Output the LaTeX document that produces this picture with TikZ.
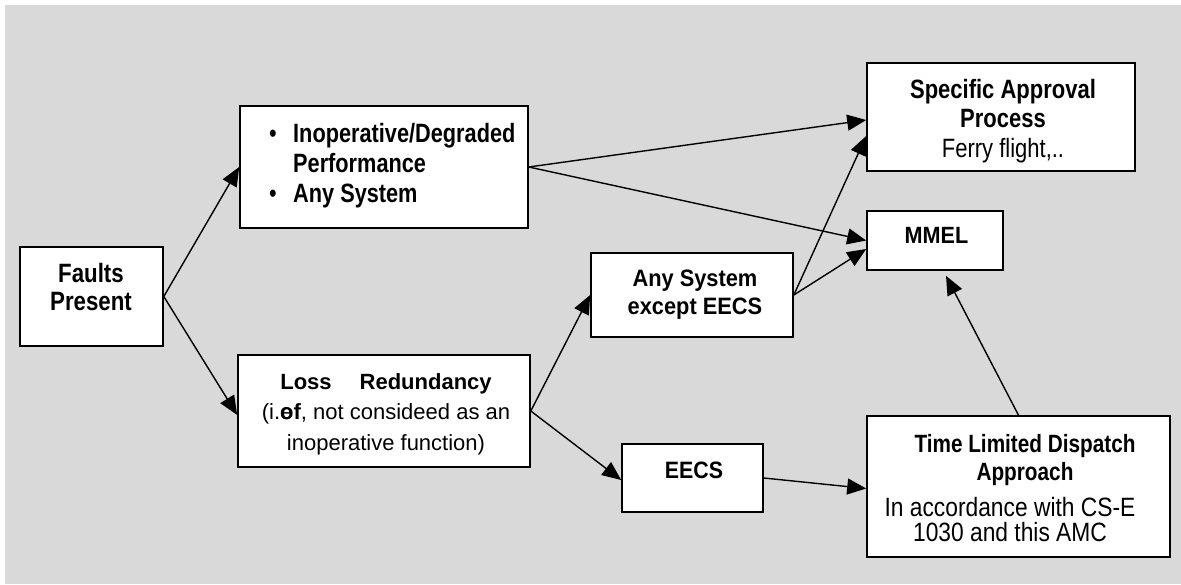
\documentclass[tikz,border=0pt]{standalone}
\usepackage{fontspec}
\setmainfont{Liberation Sans}
\usetikzlibrary{arrows.meta}
\definecolor{bggray}{RGB}{217,217,217}
\newcommand\fnt[3]{\fontsize{#1}{#3}\selectfont\addfontfeature{FakeStretch=#2}\lineskiplimit=-1000pt\relax}
\tikzset{
  box/.style={draw=black, line width=1.6pt, fill=white, rectangle, inner sep=0pt},
  txt/.style={inner sep=0pt, anchor=north, align=center},
  arr/.style={line width=1.4pt, -{Triangle[length=19pt,width=16pt]}},
}
\begin{document}
\begin{tikzpicture}[x=1pt,y=-1pt]
\useasboundingbox (0,0) rectangle (1181,584);
\fill[bggray] (5,5) rectangle (1181,584);
% boxes
\node[box, minimum width=143pt, minimum height=99pt] (faults) at (91.5,296.5) {};
\node[box, minimum width=288pt, minimum height=122pt] (inop) at (384,167) {};
\node[box, minimum width=268pt, minimum height=108pt] (spec) at (1001,117) {};
\node[box, minimum width=136pt, minimum height=59pt] (mmel) at (935,240.5) {};
\node[box, minimum width=202pt, minimum height=84pt] (any) at (692,295) {};
\node[box, minimum width=292pt, minimum height=112pt] (loss) at (384,411) {};
\node[box, minimum width=141pt, minimum height=68pt] (eecs) at (692.5,478) {};
\node[box, minimum width=303pt, minimum height=141pt] (tld) at (1018.5,486.5) {};
% texts
\node[txt, font=\fnt{26.5}{0.84}{28}\bfseries] (tfaults) at (91,263) {Faults\\Present};
\node[txt, anchor=north west, align=left, font=\fnt{26.5}{0.82}{30}\bfseries] (tinop) at (293,123) {Inoperative/Degraded\\Performance\\Any System};
\node[inner sep=0pt, anchor=base, font=\fnt{26.5}{0.82}{30}] (bul1) at (273,142) {•};
\node[inner sep=0pt, anchor=base, font=\fnt{26.5}{0.82}{30}] (bul2) at (273,202) {•};
\node[txt, font=\fnt{26.5}{0.83}{29.5}\bfseries] (tspec) at (1003,79) {Specific Approval\\Process\\{\mdseries Ferry flight,..}};
\node[txt, font=\fnt{23.5}{0.92}{28}\bfseries] (tmmel) at (936.5,227) {MMEL};
\node[txt, font=\fnt{23.7}{0.92}{28}\bfseries] (tany) at (695,270) {Any System\\except EECS};
\node[txt, font=\fnt{22}{1}{30.5}] (tloss) at (386,373) {{\bfseries Loss\hspace{28pt}Redundancy}\\(i.\rlap{e}\textbf{of}, not consideed as an\\inoperative function)};
\node[txt, font=\fnt{23.7}{0.9}{28}\bfseries] (teecs) at (694,462) {EECS};
\node[txt, font=\fnt{25}{0.83}{28}\bfseries] (ttld) at (1025,434) {Time Limited Dispatch\\Approach};
\node[txt, font=\fnt{26.5}{0.86}{25}] (ttld2) at (1010,497) {In accordance with CS-E\\1030 and this AMC};
% connectors
\draw[arr] (faults.east) -- (inop.west);
\draw[arr] (faults.east) -- ([yshift=-4pt]loss.west);
\draw[arr] (inop.east) -- ([yshift=-3pt]spec.west);
\draw[arr] (inop.east) -- (mmel.west);
\draw[arr] (loss.east) -- (any.west);
\draw[arr] (loss.east) -- ([yshift=-2pt]eecs.west);
\draw[arr] (any.east) -- ([yshift=-19pt]spec.west);
\draw[arr] (any.east) -- ([yshift=-8.5pt]mmel.west);
\draw[arr] (eecs.east) -- ([yshift=-2pt]tld.west);
\draw[arr] (tld.north) -- ([xshift=11pt,yshift=-5pt]mmel.south);
\end{tikzpicture}
\end{document}
